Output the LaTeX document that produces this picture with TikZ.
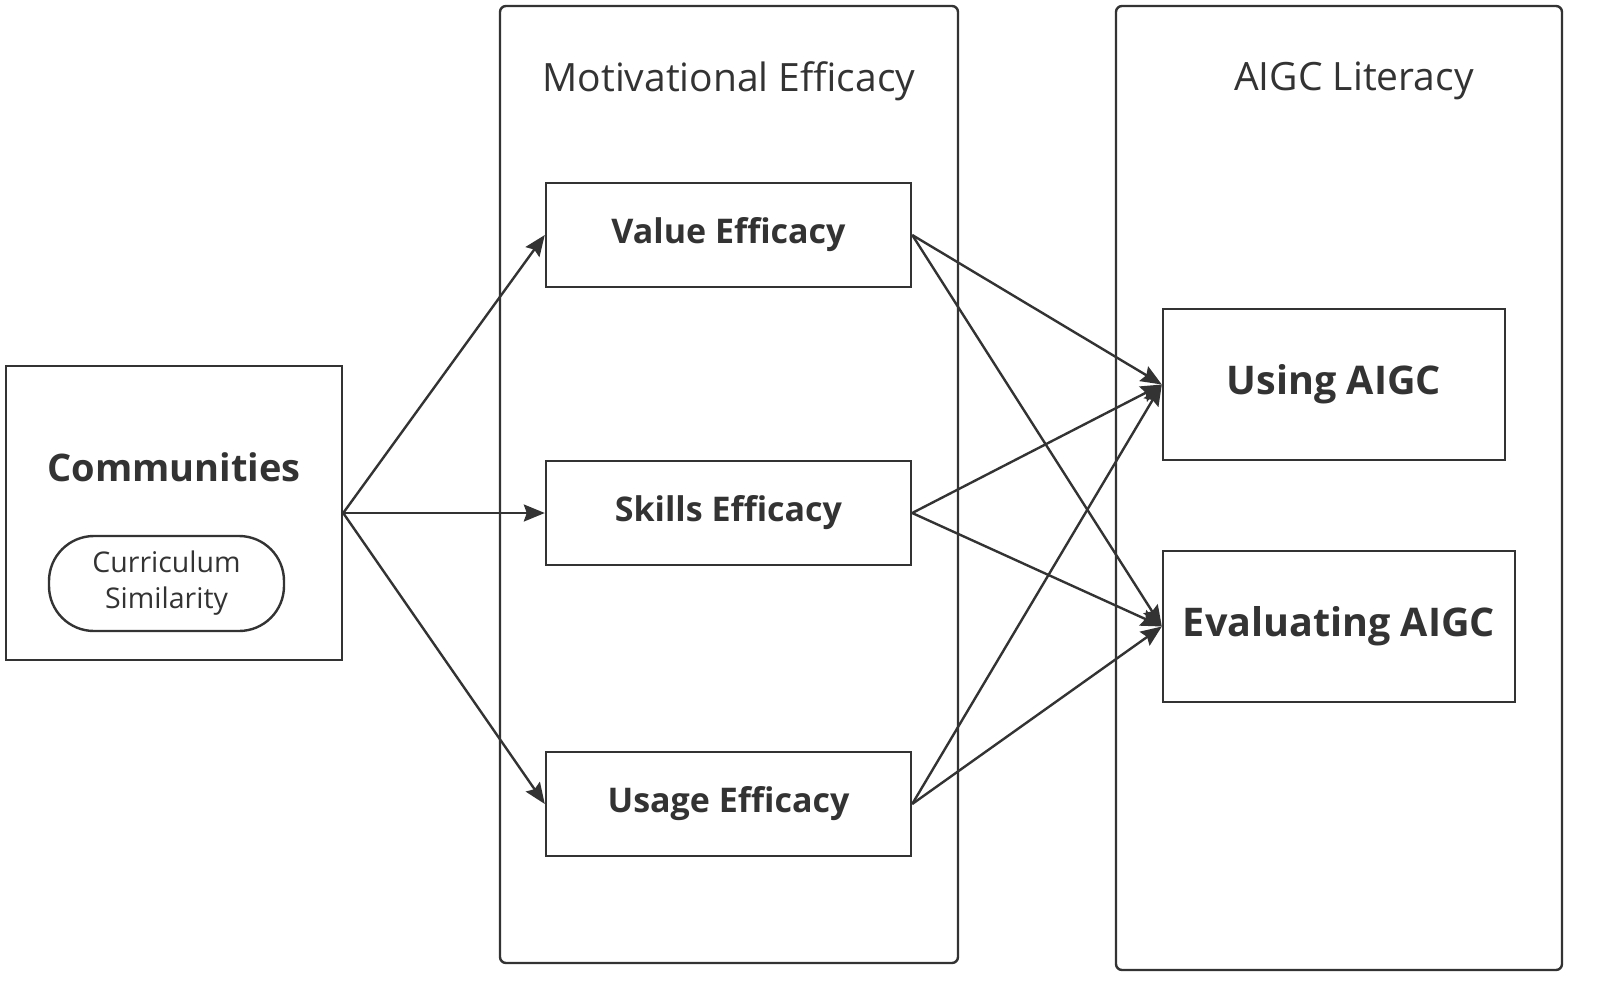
\documentclass[tikz,border=0pt]{standalone}
\usepackage{fontspec}
\setmainfont{Open Sans}
\usetikzlibrary{arrows.meta}
\definecolor{ink}{HTML}{333333}
\begin{document}
\begin{tikzpicture}[x=1pt,y=-1pt,
  lw/.style={line width=2.4pt, draw=ink},
  box/.style={lw, rectangle, inner sep=0pt, text=ink},
  cont/.style={lw, rectangle, rounded corners=6pt},
  arr/.style={lw, -{Stealth[length=21pt,width=17pt,inset=3pt]}},
  bigbold/.style={font=\fontsize{38}{40}\selectfont\bfseries},
  midbold/.style={font=\fontsize{34}{36}\selectfont\bfseries},
  rbold/.style={font=\fontsize{39.5}{40}\selectfont\bfseries},
  ttl/.style={font=\fontsize{39}{40}\selectfont, text=ink}]
\useasboundingbox (0,0) rectangle (1600,996);
% containers
\draw[cont] (500,6) rectangle (958,963);
\draw[cont] (1116,6) rectangle (1562,970);
\node[ttl] (t1) at (729,81) {Motivational Efficacy};
\node[ttl] (t2) at (1354,81) {AIGC Literacy};
% communities
\node[box, minimum width=336pt, minimum height=294pt] (com) at (174,513) {};
\node[bigbold, text=ink] (comt) at (174,467) {Communities};
\node[lw, rectangle, rounded corners=45pt, minimum width=235pt, minimum height=95pt,
  align=center, text=ink, font=\fontsize{28.5}{36}\selectfont] (cur) at (166.5,583.5) {Curriculum\\Similarity};
% efficacy boxes
\node[box, midbold, minimum width=365pt, minimum height=104pt] (val) at (728.5,235) {Value Efficacy};
\node[box, midbold, minimum width=365pt, minimum height=104pt] (ski) at (728.5,513) {Skills Efficacy};
\node[box, midbold, minimum width=365pt, minimum height=104pt] (usa) at (728.5,804) {Usage Efficacy};
% AIGC boxes
\node[box, rbold, minimum width=342pt, minimum height=151pt] (use) at (1334,384.5) {Using AIGC};
\node[box, rbold, minimum width=352pt, minimum height=151pt] (eva) at (1339,626.5) {Evaluating AIGC};
% arrows
\draw[arr] (com.east) -- (val.west);
\draw[arr] (com.east) -- (ski.west);
\draw[arr] (com.east) -- (usa.west);
\draw[arr] (val.east) -- (use.west);
\draw[arr] (val.east) -- (eva.west);
\draw[arr] (ski.east) -- (use.west);
\draw[arr] (ski.east) -- (eva.west);
\draw[arr] (usa.east) -- (use.west);
\draw[arr] (usa.east) -- (eva.west);
\end{tikzpicture}
\end{document}
